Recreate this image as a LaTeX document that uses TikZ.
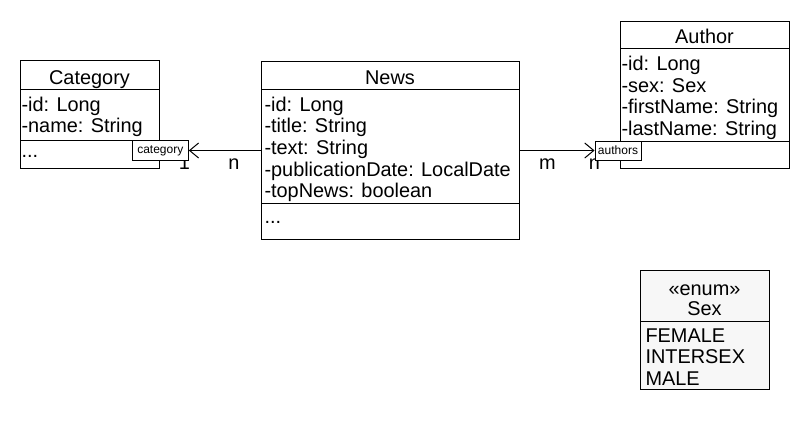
\documentclass[tikz,border=0pt]{standalone}
\usepackage{fontspec}
\setmainfont{Liberation Sans}
\usetikzlibrary{arrows.meta}
\begin{document}
\begin{tikzpicture}[x=1pt,y=-1pt,line width=1pt,
  cls/.style={draw=black,fill=white,rectangle,inner sep=0pt,anchor=north west},
  txt/.style={inner sep=0pt,anchor=base west,font=\fontsize{19.9}{22}\selectfont},
  ttl/.style={inner sep=0pt,anchor=base,font=\fontsize{19.9}{22}\selectfont},
  lbl/.style={draw=black,fill=white,rectangle,inner sep=0pt,font=\fontsize{12}{14}\selectfont},
  assoc/.style={-{Straight Barb[length=9pt,width=15pt]}}]
\useasboundingbox (0,0) rectangle (810,420);
\fill[white] (0,0) rectangle (810,420);

% Category
\node[cls,minimum width=139pt,minimum height=108pt] (cat) at (20,60) {};
\draw (cat.west |- 0,89) -- (cat.east |- 0,89);
\draw (cat.west |- 0,140) -- (cat.east |- 0,140);
\node[ttl] (catT) at (89.5,84) {Category};
\node[txt] (catA1) at (21,111) {-id: Long};
\node[txt] (catA2) at (21,132.5) {-name: String};
\node[txt] (catM) at (21,157.5) {...};

% News
\node[cls,minimum width=258pt,minimum height=178pt] (news) at (261,61) {};
\draw (news.west |- 0,89) -- (news.east |- 0,89);
\draw (news.west |- 0,203) -- (news.east |- 0,203);
\node[ttl] (newsT) at (390,84) {News};
\node[txt] (newsA1) at (264,111) {-id: Long};
\node[txt] (newsA2) at (264,132.7) {-title: String};
\node[txt] (newsA3) at (264,154.4) {-text: String};
\node[txt] (newsA4) at (264,176.1) {-publicationDate: LocalDate};
\node[txt] (newsA5) at (264,197.8) {-topNews: boolean};
\node[txt] (newsM) at (264,223) {...};

% Author
\node[cls,minimum width=169pt,minimum height=147pt] (auth) at (620,21) {};
\draw (auth.west |- 0,49) -- (auth.east |- 0,49);
\draw (auth.west |- 0,141) -- (auth.east |- 0,141);
\node[ttl] (authT) at (704.5,44) {Author};
\node[txt] (authA1) at (621,70.5) {-id: Long};
\node[txt] (authA2) at (621,92.2) {-sex: Sex};
\node[txt] (authA3) at (621,113.9) {-firstName: String};
\node[txt] (authA4) at (621,135.6) {-lastName: String};

% Sex enum
\node[cls,fill=black!3,minimum width=129pt,minimum height=119pt] (sex) at (640,270) {};
\draw (sex.west |- 0,321) -- (sex.east |- 0,321);
\node[ttl] (sexS) at (704.5,295) {«enum»};
\node[ttl] (sexT) at (704.5,315.5) {Sex};
\node[txt] (sexL1) at (645,342) {FEMALE};
\node[txt] (sexL2) at (645,363.5) {INTERSEX};
\node[txt] (sexL3) at (645,385) {MALE};

% multiplicities (behind label boxes)
\node[ttl] (m1) at (184.5,169.5) {1};
\node[ttl] (m2) at (234,169) {n};
\node[ttl] (m3) at (547.5,169) {m};
\node[ttl] (m4) at (594.5,169.5) {n};

% role label boxes
\node[lbl,minimum width=56pt,minimum height=20pt] (catL) at (160.3,150.5) {category};
\node[lbl,minimum width=46pt,minimum height=19pt] (authL) at (618,150.5) {authors};

% associations
\draw[assoc] (news.west |- catL.east) -- (catL.east);
\draw[assoc] (news.east |- authL.west) -- (authL.west);
\end{tikzpicture}
\end{document}
